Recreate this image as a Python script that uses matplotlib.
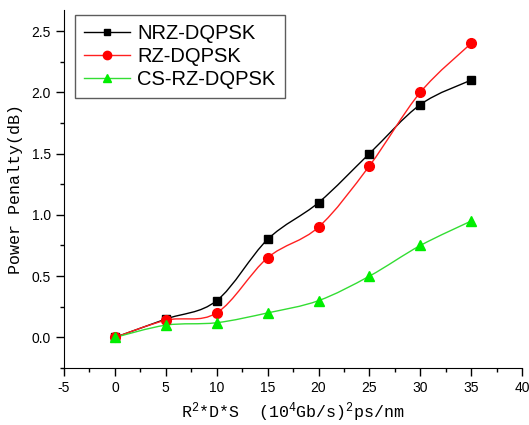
import numpy as np
import matplotlib
matplotlib.use('Agg')
import matplotlib.pyplot as plt
from matplotlib.path import Path
from matplotlib.patches import PathPatch
from matplotlib.ticker import MultipleLocator

# data
x = [0, 5, 10, 15, 20, 25, 30, 35]
nrz = [0.0, 0.15, 0.30, 0.80, 1.10, 1.50, 1.90, 2.10]
rz = [0.0, 0.14, 0.20, 0.65, 0.90, 1.40, 2.00, 2.40]
csrz = [0.0, 0.10, 0.12, 0.20, 0.30, 0.50, 0.75, 0.95]
names = ['NRZ-DQPSK', 'RZ-DQPSK', 'CS-RZ-DQPSK']

plt.rcParams['font.family'] = ['Liberation Sans', 'DejaVu Sans']
plt.rcParams['axes.unicode_minus'] = False
plt.rcParams['mathtext.fontset'] = 'custom'
plt.rcParams['mathtext.rm'] = 'Liberation Mono'
plt.rcParams['mathtext.it'] = 'Liberation Mono'


def smooth_path(xs, ys):
    # catmull-rom through the points, drawn as cubic bezier segments
    p = np.column_stack([xs, ys]).astype(float)
    ext = np.vstack([p[0], p, p[-1]])
    verts = [p[0]]
    codes = [Path.MOVETO]
    for i in range(len(p) - 1):
        p0, p1, p2, p3 = ext[i], ext[i + 1], ext[i + 2], ext[i + 3]
        c1 = p1 + (p2 - p0) / 6.0
        c2 = p2 - (p3 - p1) / 6.0
        verts += [c1, c2, p2]
        codes += [Path.CURVE4] * 3
    return Path(verts, codes)


fig = plt.figure(figsize=(5.29, 4.25), dpi=100)
ax = fig.add_axes([0.121, 0.134, 0.866, 0.842])

styles = [
    (nrz, 'black', 'black', 's', 6),
    (rz, '#ff2020', '#ff0000', 'o', 7),
    (csrz, '#33dd33', '#00ee00', '^', 7),
]
for (ys, lc, mc, mk, ms), name in zip(styles, names):
    ax.add_patch(PathPatch(smooth_path(x, ys), fill=False, edgecolor=lc, lw=1.0))
    ax.plot(x, ys, linestyle='none', marker=mk, ms=ms, color=mc)
    ax.plot([], [], color=lc, lw=1.0, marker=mk, ms=ms - 1, mfc=mc, mec=mc, label=name)

ax.set_xlim(-5, 40)
ax.set_ylim(-0.25, 2.67)
ax.xaxis.set_major_locator(MultipleLocator(5))
ax.xaxis.set_minor_locator(MultipleLocator(2.5))
ax.yaxis.set_major_locator(MultipleLocator(0.5))
ax.yaxis.set_minor_locator(MultipleLocator(0.25))
ax.set_yticks(np.arange(0, 2.51, 0.5))
ax.set_yticklabels(['0.0', '0.5', '1.0', '1.5', '2.0', '2.5'])
ax.tick_params(which='major', direction='out', length=6, width=1, labelsize=10)
ax.tick_params(which='minor', direction='out', length=3, width=1)
ax.spines['top'].set_visible(False)
ax.spines['right'].set_visible(False)

ax.set_ylabel('Power Penalty(dB)', family=['Liberation Mono'], fontsize=12, labelpad=6)
ax.set_xlabel(r'R$^2$*D*S  (10$^4$Gb/s)$^2$ps/nm', family=['Liberation Mono'], fontsize=12)

leg = ax.legend(loc='upper left', bbox_to_anchor=(0.024, 0.986), fontsize=14.5, frameon=True,
                fancybox=False, edgecolor='#333333', handlelength=2.3, borderpad=0.45,
                labelspacing=0.2, handletextpad=0.35, borderaxespad=0)
leg.get_frame().set_linewidth(1.0)

fig.savefig('out.png', dpi=100)
